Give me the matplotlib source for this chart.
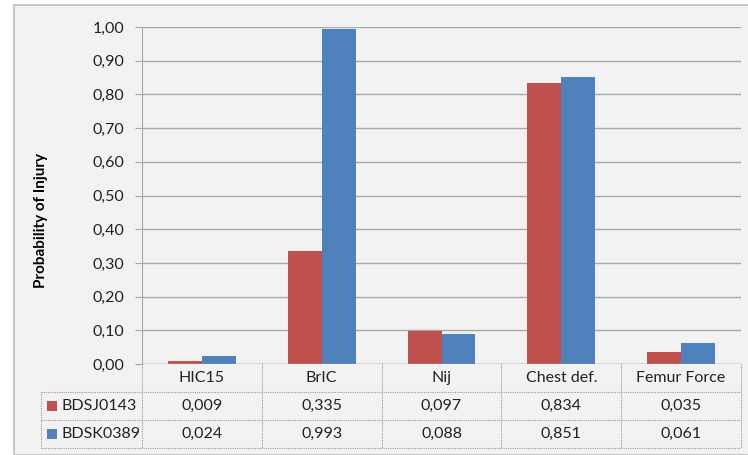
import matplotlib.pyplot as plt
from matplotlib.patches import Rectangle
import numpy as np

categories = ['HIC15', 'BrIC', 'Nij', 'Chest def.', 'Femur Force']
series_names = ['BDSJ0143', 'BDSK0389']
bdsj0143 = [0.009, 0.335, 0.097, 0.834, 0.035]
bdsk0389 = [0.024, 0.993, 0.088, 0.851, 0.061]
colors = ['#C0504D', '#4F81BD']

plt.rcParams['font.family'] = ['Lato', 'DejaVu Sans']

W, H = 748, 455
fig = plt.figure(figsize=(W / 100, H / 100), dpi=100, facecolor='white')

# chart area background with thin border
fig.patches.append(Rectangle((14 / W, 0), 1, 1 - 5 / H, transform=fig.transFigure,
                             facecolor='#f2f2f2', edgecolor='#c8c8c8', linewidth=1.5,
                             zorder=-10))

left, right, top, bottom = 142, 741, 27, 364
ax = fig.add_axes([left / W, 1 - bottom / H, (right - left) / W, (bottom - top) / H])
ax.set_facecolor('none')

x = np.arange(len(categories))
bw = 0.283
ax.bar(x - bw / 2, bdsj0143, bw, color=colors[0], zorder=3)
ax.bar(x + bw / 2, bdsk0389, bw, color=colors[1], zorder=3)

ax.set_xlim(-0.5, len(categories) - 0.5)
ax.set_ylim(0, 1.0)
yt = np.arange(0, 1.01, 0.1)
ax.set_yticks(yt)
ax.set_yticklabels([f'{v:.2f}'.replace('.', ',') for v in yt], fontsize=11.5, color='#222222')
ax.set_xticks([])
ax.grid(axis='y', color='#a8a8a8', linewidth=1, zorder=0)
for s in ['top', 'right', 'bottom']:
    ax.spines[s].set_visible(False)
ax.spines['left'].set_color('#a8a8a8')
ax.tick_params(axis='y', length=5, color='#a8a8a8', pad=8)
ax.axhline(0, color='#a8a8a8', linewidth=1, zorder=4)

ax.set_ylabel('Probability of Injury', fontsize=11, fontweight='bold', va='center')
ax.yaxis.set_label_coords((41 - left) / (right - left), (bottom - 220) / (bottom - top))

# data table under the axis
row_h = 28 / (bottom - top)
trans = ax.get_xaxis_transform()  # x in data, y in axes
fig_tr = fig.transFigure
line_kw = dict(color='#9a9a9a', linewidth=0.8, linestyle=(0, (1, 1)), clip_on=False)

bounds = np.arange(len(categories) + 1) - 0.5
for b in bounds:
    ax.plot([b, b], [0, -3 * row_h], transform=trans, **line_kw)
for k in [1, 2, 3]:
    yk = bottom + 28 * k
    ax.plot([41 / W, right / W], [1 - yk / H, 1 - yk / H], transform=fig_tr, **line_kw)
ax.plot([41 / W, 41 / W], [1 - (bottom + 28) / H, 1 - (bottom + 84) / H], transform=fig_tr, **line_kw)

for i, c in enumerate(categories):
    ax.text(i, -0.5 * row_h, c, transform=trans, ha='center', va='center', fontsize=11.5, color='#222222')
    ax.text(i, -1.5 * row_h, f'{bdsj0143[i]:.3f}'.replace('.', ','), transform=trans,
            ha='center', va='center', fontsize=11.5, color='#222222')
    ax.text(i, -2.5 * row_h, f'{bdsk0389[i]:.3f}'.replace('.', ','), transform=trans,
            ha='center', va='center', fontsize=11.5, color='#222222')

for r, (name, col) in enumerate(zip(series_names, colors)):
    yc = bottom + 28 * (r + 1.5)
    fig.patches.append(Rectangle((47 / W, 1 - (yc + 5) / H), 10 / W, 10 / H,
                                 transform=fig_tr, facecolor=col, edgecolor='none'))
    fig.text(61 / W, 1 - yc / H, name, ha='left', va='center', fontsize=11.5, color='#222222')

fig.savefig('out.png', dpi=100, facecolor=fig.get_facecolor())
